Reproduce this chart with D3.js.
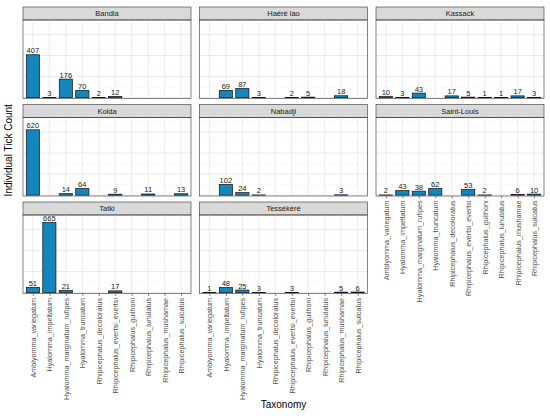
<!DOCTYPE html>
<html lang="en">
<head>
  <meta charset="UTF-8">
  <title>Tick counts by site</title>
  <script src="https://d3js.org/d3.v7.min.js"></script>
  <style>
    body { margin: 0; background: white; font-family: Arial, "Liberation Sans", sans-serif; }
    svg { display: block; }
  </style>
</head>
<body>
  <div id="chart"></div>
  <script>
    const taxa = [
      "Amblyomma_variegatum", "Hyalomma_impeltatum", "Hyalomma_marginatum_rufipes",
      "Hyalomma_truncatum", "Rhipicephalus_decoloratus", "Rhipicephalus_evertsi_evertsi",
      "Rhipicephalus_guilhoni", "Rhipicephalus_lunulatus", "Rhipicephalus_mushamae",
      "Rhipicephalus_sulcatus"
    ];
    const sites = ["Bandia", "Haéré lao", "Kassack", "Kolda", "Nabadji", "Saint-Louis", "Tatki", "Tessékéré"];

    // counts per taxon, same order as taxa (null = no ticks found)
    const bandia     = [407, 3, 176, 70, 2, 12, null, null, null, null];
    const haereLao   = [null, 69, 87, 3, null, 2, 5, null, 18, null];
    const kassack    = [10, 3, 43, null, 17, 5, 1, 1, 17, 3];
    const kolda      = [620, null, 14, 64, null, 9, null, 11, null, 13];
    const nabadji    = [null, 102, 24, 2, null, null, null, null, 3, null];
    const saintLouis = [2, 43, 38, 62, null, 53, 2, null, 6, 10];
    const tatki      = [51, 665, 21, null, null, 17, null, null, null, null];
    const tessekere  = [1, 48, 25, 3, null, 3, null, null, 5, 6];

    const counts = [bandia, haereLao, kassack, kolda, nabadji, saintLouis, tatki, tessekere];

    const width = 550, height = 416;
    const marginLeft = 23, pw = 168, colGap = 8.5;
    const marginTop = 7, stripH = 13, ph = 78.5, rowGap = 6;
    const ncol = 3;

    const svg = d3.select("#chart").append("svg")
      .attr("width", width)
      .attr("height", height);

    const x = d3.scalePoint().domain(taxa).range([0, pw]).padding(0.6);
    const barW = x.step() * 0.8;
    const y = d3.scaleLinear().domain([-8, 737]).range([ph, 0]);

    sites.forEach((site, i) => {
      const col = i % ncol, row = Math.floor(i / ncol);
      const px = marginLeft + col * (pw + colGap);
      const py = marginTop + row * (stripH + ph + rowGap) + stripH;
      const g = svg.append("g").attr("transform", `translate(${px},${py})`);

      // strip
      g.append("rect")
        .attr("x", 0).attr("y", -stripH)
        .attr("width", pw).attr("height", stripH)
        .attr("fill", "#d9d9d9")
        .attr("stroke", "#333").attr("stroke-width", 0.6);
      g.append("text")
        .attr("x", pw / 2).attr("y", -stripH / 2)
        .attr("dy", "0.35em")
        .attr("text-anchor", "middle")
        .attr("font-size", 7.5)
        .attr("fill", "#1a1a1a")
        .text(site);

      // grid
      const minor = d3.range(100, 800, 200), major = d3.range(0, 800, 200);
      g.append("g").selectAll("line").data(minor.filter(v => y(v) >= 0))
        .join("line")
        .attr("x1", 0).attr("x2", pw)
        .attr("y1", d => y(d)).attr("y2", d => y(d))
        .attr("stroke", "#f0f0f0").attr("stroke-width", 0.5);
      g.append("g").selectAll("line").data(major.filter(v => y(v) >= 0))
        .join("line")
        .attr("x1", 0).attr("x2", pw)
        .attr("y1", d => y(d)).attr("y2", d => y(d))
        .attr("stroke", "#e6e6e6").attr("stroke-width", 0.8);
      g.append("g").selectAll("line").data(taxa)
        .join("line")
        .attr("x1", d => x(d)).attr("x2", d => x(d))
        .attr("y1", 0).attr("y2", ph)
        .attr("stroke", "#e6e6e6").attr("stroke-width", 0.8);

      const data = taxa.map((t, k) => ({ taxon: t, n: counts[i][k] })).filter(d => d.n != null);

      g.append("g").selectAll("rect").data(data)
        .join("rect")
        .attr("x", d => x(d.taxon) - barW / 2)
        .attr("y", d => y(d.n))
        .attr("width", barW)
        .attr("height", d => y(0) - y(d.n))
        .attr("fill", "#1386bd")
        .attr("stroke", "#111").attr("stroke-width", 0.7);

      g.append("g").selectAll("text").data(data)
        .join("text")
        .attr("x", d => x(d.taxon))
        .attr("y", d => y(d.n) - 1.5)
        .attr("text-anchor", "middle")
        .attr("font-size", 7.5)
        .attr("fill", "#222")
        .text(d => d.n);

      // panel border
      g.append("rect")
        .attr("width", pw).attr("height", ph)
        .attr("fill", "none")
        .attr("stroke", "#333").attr("stroke-width", 0.6);

      // x axis only under the lowest panel of each column
      const isBottom = i + ncol >= sites.length;
      if (isBottom) {
        const ax = g.append("g").attr("transform", `translate(0,${ph})`)
          .call(d3.axisBottom(x).tickSize(2.5).tickPadding(2));
        ax.select(".domain").remove();
        ax.selectAll(".tick line").attr("stroke", "#333").attr("stroke-width", 0.6);
        ax.selectAll(".tick text")
          .attr("font-size", 7.2)
          .attr("font-family", "Arial, 'Liberation Sans', sans-serif")
          .attr("fill", "#4d4d4d")
          .attr("transform", "rotate(-90)")
          .attr("text-anchor", "end")
          .attr("x", -4.5)
          .attr("y", 0)
          .attr("dy", "0.35em");
      }
    });

    const gridBottom = marginTop + 3 * (stripH + ph) + 2 * rowGap;

    svg.append("text")
      .attr("x", marginLeft + (3 * pw + 2 * colGap) / 2)
      .attr("y", 408)
      .attr("text-anchor", "middle")
      .attr("font-size", 10)
      .attr("fill", "#000")
      .text("Taxonomy");

    svg.append("text")
      .attr("transform", `translate(12,${(marginTop + gridBottom) / 2}) rotate(-90)`)
      .attr("text-anchor", "middle")
      .attr("font-size", 10)
      .attr("fill", "#000")
      .text("Individual Tick Count");
  </script>
</body>
</html>
